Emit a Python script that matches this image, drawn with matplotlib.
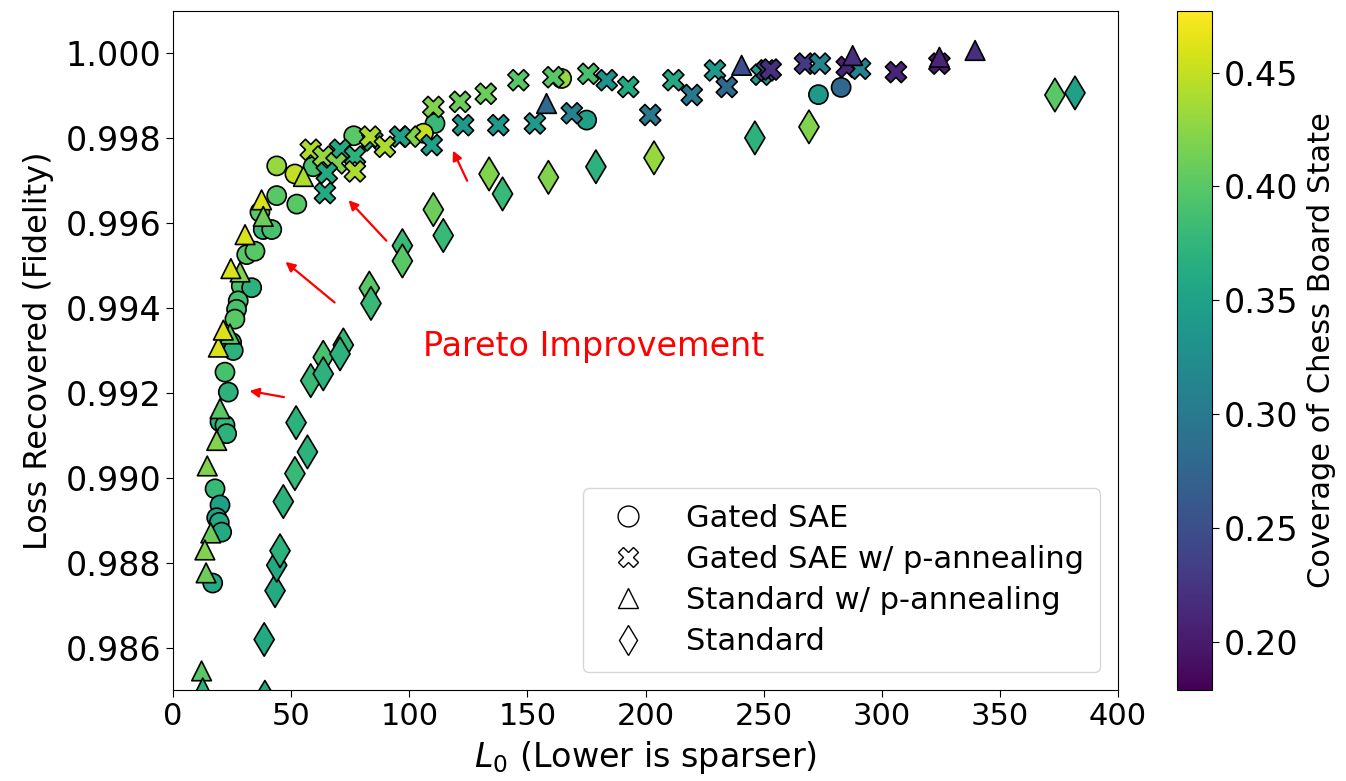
import matplotlib
matplotlib.use("Agg")
import matplotlib.pyplot as plt
from matplotlib.colors import Normalize
from matplotlib.lines import Line2D

# ---- Data ----
gated_x = [17.8, 19.9, 18.5, 19.6, 20.6, 16.8, 31.2, 34.7, 28.9, 33.3, 27.6, 26.9, 26.2, 24.8,
           25.5, 22.0, 23.4, 19.9, 22.0, 22.7, 43.9, 51.6, 43.9, 52.4, 36.8, 38.2, 41.8, 76.5,
           110.9, 106.0, 59.3, 164.5, 175.1, 273.2, 282.8]
gated_y = [0.98974, 0.98936, 0.98906, 0.98895, 0.98872, 0.98752, 0.99526, 0.99534, 0.99452,
           0.99448, 0.99417, 0.99397, 0.99374, 0.99319, 0.99300, 0.99249, 0.99202, 0.99132,
           0.99124, 0.99104, 0.99735, 0.99716, 0.99665, 0.99645, 0.99626, 0.99585, 0.99585,
           0.99806, 0.99835, 0.99812, 0.99733, 0.99941, 0.99843, 0.99903, 0.99920]
gated_c = [0.38, 0.35, 0.35, 0.36, 0.36, 0.36, 0.40, 0.40, 0.39, 0.37, 0.39, 0.39, 0.40, 0.38,
           0.37, 0.39, 0.37, 0.37, 0.38, 0.37, 0.43, 0.45, 0.40, 0.40, 0.40, 0.38, 0.39, 0.40,
           0.38, 0.45, 0.39, 0.43, 0.35, 0.34, 0.28]

gated_pa_x = [110.2, 121.5, 132.4, 146.2, 161.0, 175.8, 183.6, 192.7, 211.8, 219.6, 229.4,
              234.4, 249.0, 251.3, 253.0, 122.8, 137.7, 153.2, 168.8, 202.0, 109.5, 100.3, 96.1,
              84.4, 83.4, 89.7, 58.3, 63.6, 70.7, 77.0, 69.2, 65.1, 77.0, 64.3, 267.5, 273.8,
              285.2, 290.8, 306.0, 324.4]
gated_pa_y = [0.99874, 0.99886, 0.99905, 0.99937, 0.99944, 0.99952, 0.99937, 0.99921, 0.99937,
              0.99902, 0.99960, 0.99921, 0.99950, 0.99960, 0.99962, 0.99831, 0.99831, 0.99835,
              0.99859, 0.99855, 0.99784, 0.99804, 0.99804, 0.99795, 0.99804, 0.99780, 0.99773,
              0.99757, 0.99773, 0.99757, 0.99741, 0.99718, 0.99722, 0.99671, 0.99976, 0.99976,
              0.99968, 0.99964, 0.99956, 0.99976]
gated_pa_c = [0.42, 0.41, 0.41, 0.40, 0.40, 0.39, 0.33, 0.36, 0.36, 0.30, 0.34, 0.28, 0.34,
              0.24, 0.22, 0.34, 0.34, 0.34, 0.31, 0.30, 0.35, 0.42, 0.35, 0.36, 0.44, 0.44,
              0.44, 0.43, 0.36, 0.37, 0.42, 0.36, 0.44, 0.36, 0.23, 0.31, 0.21, 0.31, 0.21, 0.20]

std_pa_x = [14.5, 16.0, 13.5, 14.0, 12.1, 12.6, 19.9, 18.5, 24.1, 19.2, 21.3, 28.4, 24.5, 37.5,
            38.2, 30.5, 55.2, 158.1, 240.7, 287.7, 324.4, 339.5]
std_pa_y = [0.99028, 0.98870, 0.98830, 0.98776, 0.98545, 0.98505, 0.99163, 0.99088, 0.99339,
            0.99308, 0.99348, 0.99485, 0.99493, 0.99655, 0.99616, 0.99573, 0.99710, 0.99882,
            0.99972, 0.99995, 0.99991, 1.00007]
std_pa_c = [0.42, 0.41, 0.42, 0.41, 0.40, 0.37, 0.40, 0.42, 0.40, 0.46, 0.46, 0.42, 0.46, 0.46,
            0.41, 0.46, 0.44, 0.28, 0.25, 0.22, 0.21, 0.22]

std_x = [38.9, 38.6, 43.2, 43.9, 45.3, 46.7, 51.6, 56.9, 52.1, 58.3, 63.6, 63.6, 72.1, 70.7,
         83.1, 83.8, 97.1, 97.1, 110.2, 114.4, 133.8, 139.5, 158.9, 179.0, 203.6, 246.3, 269.2,
         373.3, 381.8]
std_y = [0.98483, 0.98619, 0.98734, 0.98794, 0.98828, 0.98944, 0.99010, 0.99061, 0.99130,
         0.99229, 0.99284, 0.99245, 0.99313, 0.99292, 0.99447, 0.99411, 0.99547, 0.99511,
         0.99632, 0.99571, 0.99716, 0.99669, 0.99708, 0.99733, 0.99754, 0.99801, 0.99827,
         0.99902, 0.99907]
std_c = [0.36, 0.36, 0.36, 0.36, 0.37, 0.37, 0.38, 0.37, 0.37, 0.38, 0.39, 0.37, 0.38, 0.37,
         0.40, 0.38, 0.38, 0.40, 0.41, 0.38, 0.42, 0.38, 0.42, 0.37, 0.43, 0.37, 0.42, 0.40, 0.35]

legend_labels = ["Gated SAE", "Gated SAE w/ p-annealing", "Standard w/ p-annealing", "Standard"]

# arrows: (tail_x, tail_y, head_x, head_y)
arrow_tail_x = [48.1, 69.3, 91.1, 125.0]
arrow_tail_y = [0.99189, 0.99409, 0.99554, 0.99694]
arrow_head_x = [31.2, 46.7, 73.5, 118.0]
arrow_head_y = [0.99206, 0.99513, 0.99659, 0.99777]

cvmin, cvmax = 0.179, 0.477

# ---- Plot ----
W, H = 1346, 781
fig = plt.figure(figsize=(W / 100, H / 100), dpi=100)
ax = fig.add_axes([173 / W, 1 - 690 / H, (1118 - 173) / W, (690 - 11) / H])
cax = fig.add_axes([1177 / W, 1 - 690 / H, 35 / W, (690 - 11) / H])

norm = Normalize(vmin=cvmin, vmax=cvmax)
cmap = plt.get_cmap("viridis")
kw = dict(cmap=cmap, norm=norm, edgecolors="black", linewidths=1.2)

ax.scatter(gated_x, gated_y, c=gated_c, marker="o", s=190, **kw)
ax.scatter(gated_pa_x, gated_pa_y, c=gated_pa_c, marker="X", s=230, **kw)
ax.scatter(std_pa_x, std_pa_y, c=std_pa_c, marker="^", s=200, **kw)
sc = ax.scatter(std_x, std_y, c=std_c, marker="d", s=290, **kw)

for tx, ty, hx, hy in zip(arrow_tail_x, arrow_tail_y, arrow_head_x, arrow_head_y):
    ax.annotate("", xy=(hx, hy), xytext=(tx, ty),
                arrowprops=dict(arrowstyle="-|>", color="red", lw=1.6, mutation_scale=14))

ax.text(106, 0.9931, "Pareto Improvement", color="red", fontsize=24, va="center", ha="left")

ax.set_xlim(0, 400)
ax.set_ylim(0.985, 1.001)
ax.set_xticks([0, 50, 100, 150, 200, 250, 300, 350, 400])
ax.set_yticks([0.986, 0.988, 0.990, 0.992, 0.994, 0.996, 0.998, 1.000])
ax.yaxis.set_major_formatter(matplotlib.ticker.FormatStrFormatter("%.3f"))
ax.tick_params(axis="x", labelsize=22, length=5)
ax.tick_params(axis="y", labelsize=24, length=5)
ax.set_xlabel("$L_0$ (Lower is sparser)", fontsize=24, labelpad=6)
ax.set_ylabel("Loss Recovered (Fidelity)", fontsize=23, labelpad=8)

markers = ["o", "X", "^", "d"]
handles = [Line2D([], [], marker=m, linestyle="none", markerfacecolor="white",
                  markeredgecolor="black", markersize=15, markeredgewidth=1.0) for m in markers]
ax.legend(handles, legend_labels, loc="lower right", fontsize=22, frameon=True,
          borderpad=0.5, labelspacing=0.4, handletextpad=0.9, borderaxespad=0.6)

cb = fig.colorbar(sc, cax=cax)
cb.set_ticks([0.20, 0.25, 0.30, 0.35, 0.40, 0.45])
cb.ax.tick_params(labelsize=24, length=5)
cb.set_label("Coverage of Chess Board State", fontsize=22, labelpad=6)

fig.savefig("out.png", dpi=100)
